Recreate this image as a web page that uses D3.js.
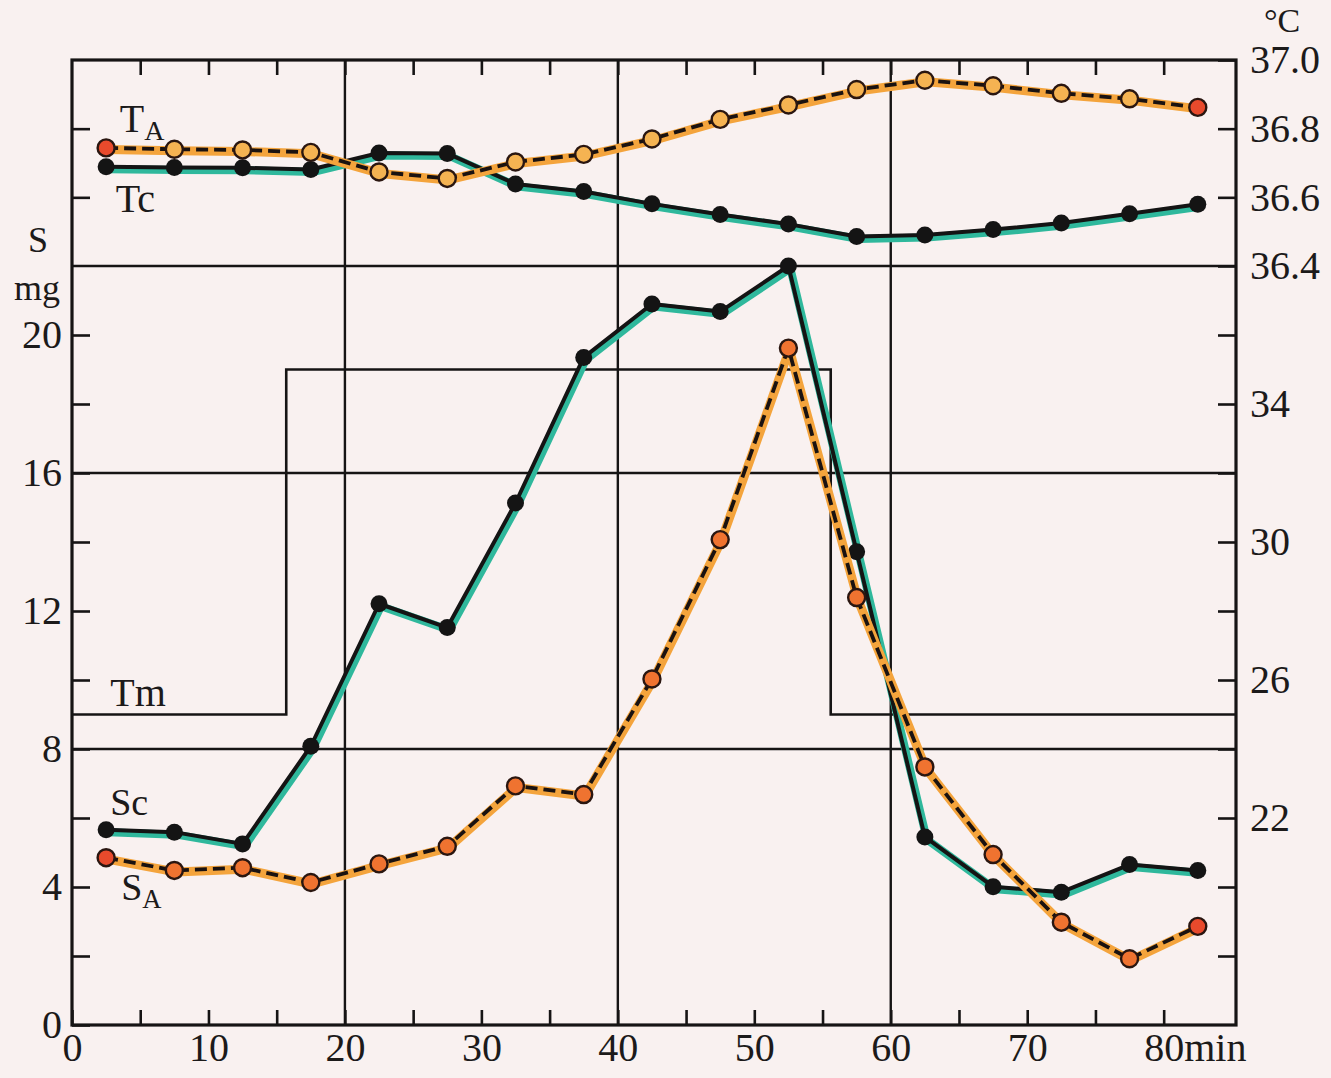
<!DOCTYPE html>
<html>
<head>
<meta charset="utf-8">
<script src="https://cdn.jsdelivr.net/npm/d3@7"></script>
<style>
  body { margin: 0; background: #f9f1f0; }
  svg { display: block; }
  text { font-family: "Liberation Serif", "DejaVu Serif", serif; fill: #1c1a1a; }
</style>
</head>
<body>
<svg id="chart"></svg>
<script>
// sampling times (min)
var times = [2.5, 7.5, 12.5, 17.5, 22.5, 27.5, 32.5, 37.5, 42.5, 47.5, 52.5, 57.5, 62.5, 67.5, 72.5, 77.5, 82.5]

// sweat, mg
var sc = [5.66, 5.59, 5.25, 8.08, 12.21, 11.52, 15.13, 19.35, 20.9, 20.68, 22.0, 13.72, 5.45, 4.01, 3.85, 4.65, 4.48]
var sa = [4.85, 4.48, 4.56, 4.13, 4.67, 5.18, 6.93, 6.68, 10.03, 14.07, 19.62, 12.39, 7.48, 4.94, 2.98, 1.92, 2.86]

// body temperature, C
var ta = [36.744, 36.740, 36.738, 36.731, 36.674, 36.655, 36.703, 36.725, 36.770, 36.827, 36.869, 36.914, 36.941, 36.925, 36.903, 36.887, 36.862]
var tc = [36.689, 36.687, 36.686, 36.681, 36.729, 36.728, 36.639, 36.617, 36.581, 36.550, 36.522, 36.486, 36.490, 36.506, 36.525, 36.552, 36.580]

// room temperature steps
var tmTimes = [0, 15.7, 55.6, 85.3]
var tmValues = [25, 35, 25, 25]

var sTicks = [0, 4, 8, 12, 16, 20]
var tmTicks = [22, 26, 30, 34]
var tTicks = [36.4, 36.6, 36.8, 37.0]
var xTicks = [0, 10, 20, 30, 40, 50, 60, 70, 80]

var width = 1331, height = 1078
var svg = d3.select("#chart").attr("width", width).attr("height", height)

var x = d3.scaleLinear().domain([0, 85.3]).range([72, 1236])
var yS = d3.scaleLinear().domain([0, 22]).range([1025, 266])
var yTm = d3.scaleLinear().domain([16, 38]).range([1025, 266])
var yT = d3.scaleLinear().domain([36.4, 37.0]).range([266, 60])

var plotLeft = x(0), plotRight = x(85.3), plotTop = yT(37.0), plotBottom = yS(0)
var ink = "#161414"

// grid + frame
var grid = svg.append("g").attr("stroke", ink).attr("fill", "none")
grid.selectAll("line.v")
  .data([20, 40, 60]).enter().append("line")
  .attr("x1", d => x(d)).attr("x2", d => x(d))
  .attr("y1", plotTop).attr("y2", plotBottom)
  .attr("stroke-width", 2.4)
grid.selectAll("line.h")
  .data([8, 16, 22]).enter().append("line")
  .attr("x1", plotLeft).attr("x2", plotRight)
  .attr("y1", d => yS(d)).attr("y2", d => yS(d))
  .attr("stroke-width", 2.4)
grid.append("rect")
  .attr("x", plotLeft).attr("y", plotTop)
  .attr("width", plotRight - plotLeft).attr("height", plotBottom - plotTop)
  .attr("stroke-width", 3.2)

function styleAxis(g) {
  g.select(".domain").remove()
  g.selectAll(".tick line").attr("stroke", ink).attr("stroke-width", 2.6)
  g.selectAll(".tick text").style("font-size", "40px").attr("fill", "#1c1a1a")
}

// bottom / top ticks
svg.append("g").attr("transform", "translate(0," + plotBottom + ")")
  .call(d3.axisBottom(x).tickValues(d3.range(0, 85, 5)).tickSize(-15).tickSizeOuter(0).tickPadding(8)
    .tickFormat(d => xTicks.includes(d) ? (d === 80 ? "80min" : d) : ""))
  .call(styleAxis)
  .call(g => g.selectAll(".tick text").filter(d => d === 80).attr("text-anchor", "start").attr("x", -20))
svg.append("g").attr("transform", "translate(0," + plotTop + ")")
  .call(d3.axisTop(x).tickValues(d3.range(5, 85, 5)).tickSize(-15).tickSizeOuter(0).tickFormat(""))
  .call(styleAxis)

// left S axis
svg.append("g").attr("transform", "translate(" + plotLeft + ",0)")
  .call(d3.axisLeft(yS).tickValues(d3.range(0, 22, 2)).tickSize(-18).tickSizeOuter(0).tickPadding(10)
    .tickFormat(d => sTicks.includes(d) ? d : ""))
  .call(styleAxis)
svg.append("g").attr("transform", "translate(" + plotLeft + ",0)")
  .call(d3.axisLeft(yT).tickValues([36.6, 36.8]).tickSize(-18).tickSizeOuter(0).tickFormat(""))
  .call(styleAxis)

// right axes
svg.append("g").attr("transform", "translate(" + plotRight + ",0)")
  .call(d3.axisRight(yTm).tickValues(d3.range(18, 38, 2)).tickSize(-18).tickSizeOuter(0).tickPadding(14)
    .tickFormat(d => tmTicks.includes(d) ? d : ""))
  .call(styleAxis)
svg.append("g").attr("transform", "translate(" + plotRight + ",0)")
  .call(d3.axisRight(yT).tickValues(tTicks).tickSize(-18).tickSizeOuter(0).tickPadding(14)
    .tickFormat(d3.format(".1f")))
  .call(styleAxis)

// Tm step line
var tmLine = d3.line().x(d => x(d[0])).y(d => yTm(d[1])).curve(d3.curveStepAfter)
svg.append("path")
  .datum(d3.zip(tmTimes, tmValues))
  .attr("d", tmLine)
  .attr("fill", "none").attr("stroke", ink).attr("stroke-width", 2.6)

function drawSeries(values, yScale, kind) {
  var pts = d3.zip(times, values)
  var line = d3.line().x(d => x(d[0])).y(d => yScale(d[1]))
  var g = svg.append("g")
  if (kind === "c") {
    g.append("path").datum(pts).attr("d", line)
      .attr("transform", "translate(2,2.5)")
      .attr("fill", "none").attr("stroke", "#2fb89c").attr("stroke-width", 8)
      .attr("stroke-linejoin", "round")
    g.append("path").datum(pts).attr("d", line)
      .attr("fill", "none").attr("stroke", "#141414").attr("stroke-width", 4)
      .attr("stroke-linejoin", "round")
    g.selectAll("circle").data(pts).enter().append("circle")
      .attr("cx", d => x(d[0])).attr("cy", d => yScale(d[1]))
      .attr("r", 8.5).attr("fill", "#141414")
  } else {
    g.append("path").datum(pts).attr("d", line)
      .attr("transform", "translate(1,1.5)")
      .attr("fill", "none").attr("stroke", "#f4a43c").attr("stroke-width", 9)
      .attr("stroke-linejoin", "round")
    g.append("path").datum(pts).attr("d", line)
      .attr("fill", "none").attr("stroke", "#1a1210").attr("stroke-width", 3.8)
      .attr("stroke-dasharray", "12,6")
    var last = pts.length - 1
    g.selectAll("circle").data(pts).enter().append("circle")
      .attr("cx", d => x(d[0])).attr("cy", d => yScale(d[1]))
      .attr("r", 8.5)
      .attr("fill", (d, i) => (i === 0 || i === last) ? "#e84a2c" : (kind === "ta" ? "#f5b352" : "#ef7330"))
      .attr("stroke", "#2a1610").attr("stroke-width", 2.4)
  }
}

drawSeries(tc, yT, "c")
drawSeries(ta, yT, "ta")
drawSeries(sc, yS, "c")
drawSeries(sa, yS, "sa")

// labels
function label(txt, sub, px, py, size) {
  var t = svg.append("text").attr("x", px).attr("y", py).style("font-size", size + "px")
  t.append("tspan").text(txt)
  if (sub) t.append("tspan").text(sub).attr("dy", 8).style("font-size", (size * 0.7) + "px")
  return t
}
label("T", "A", x(3.5), yT(36.79), 40)
label("Tc", null, x(3.2), yT(36.557), 40)
label("Tm", null, x(2.8), yS(9.25), 40)
label("Sc", null, x(2.8), yS(6.09), 38)
label("S", "A", x(3.6), yS(3.62), 38)
label("S", null, plotLeft - 44, yS(22) - 14, 36)
label("mg", null, plotLeft - 58, yS(22) + 34, 36)
label("°C", null, plotRight + 28, plotTop - 28, 34)
</script>
</body>
</html>
